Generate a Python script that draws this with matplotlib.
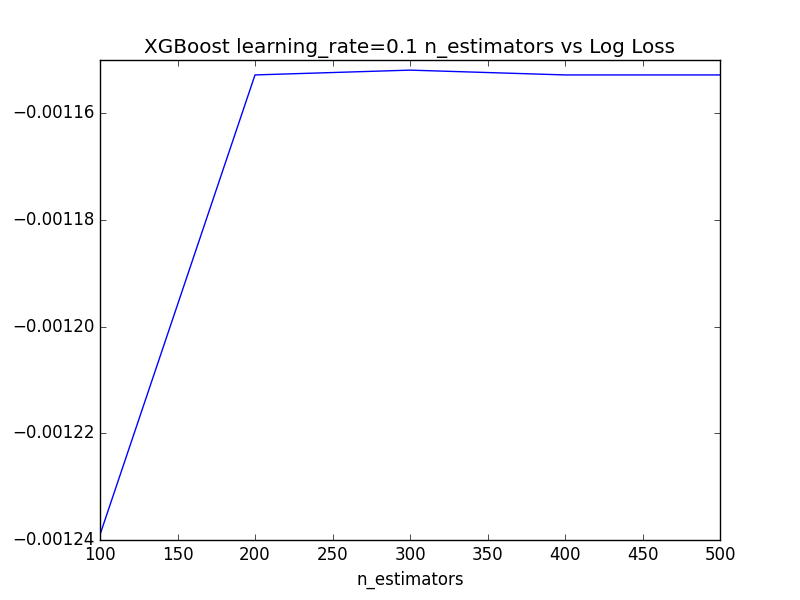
import matplotlib
matplotlib.use('Agg')
import matplotlib.pyplot as plt

# data
n_estimators = [100, 200, 300, 400, 500]
log_loss = [-0.001239, -0.0011528, -0.0011519, -0.0011528, -0.0011528]

plt.style.use('classic')
fig, ax = plt.subplots(figsize=(8, 6), dpi=100)
fig.patch.set_facecolor('white')

ax.plot(n_estimators, log_loss, color='b')
ax.set_xlim(100, 500)
ax.set_ylim(-0.00124, -0.00115)
ax.set_yticks([-0.00124, -0.00122, -0.00120, -0.00118, -0.00116])
ax.ticklabel_format(axis='y', useOffset=False, style='plain')
ax.set_yticklabels(['\u22120.00124', '\u22120.00122', '\u22120.00120', '\u22120.00118', '\u22120.00116'])

ax.set_title('XGBoost learning_rate=0.1 n_estimators vs Log Loss')
ax.set_xlabel('n_estimators')
ax.set_ylabel('Log Loss')
ax.yaxis.set_label_coords(-0.172, 0.5)

fig.savefig('out.png', dpi=100, facecolor='white')
